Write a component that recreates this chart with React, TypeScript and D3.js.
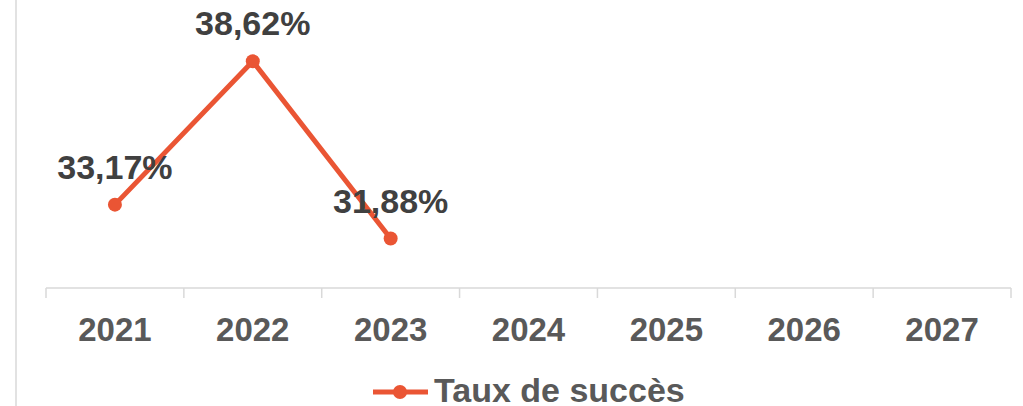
import React from 'react';
import * as d3 from 'd3';

const years = ['2021', '2022', '2023', '2024', '2025', '2026', '2027'];
const successRate: (number | null)[] = [33.17, 38.62, 31.88, null, null, null, null];
const seriesName = 'Taux de succès';

const W = 1023;
const H = 406;
const ORANGE = '#EA5534';
const FONT = 'Arial, "Liberation Sans", Helvetica, sans-serif';

const fmt = (v: number) => v.toFixed(2).replace('.', ',') + '%';

const App = () => {
  const x = d3.scaleBand<string>().domain(years).range([46, 1011]);
  const y = d3.scaleLinear().domain([30, 40]).range([288, 25]);

  const pts = years
    .map((yr, i) => ({ yr, v: successRate[i] }))
    .filter(d => d.v !== null) as { yr: string; v: number }[];

  const cx = (yr: string) => (x(yr) as number) + x.bandwidth() / 2;

  const line = d3.line<{ yr: string; v: number }>()
    .x(d => cx(d.yr))
    .y(d => y(d.v));

  const ticks = [...years.map(yr => x(yr) as number), x.range()[1]];

  return (
    <svg width={W} height={H} style={{ position: 'absolute', left: 0, top: 0 }} fontFamily={FONT}>
      <rect width={W} height={H} fill="#fff" />
      <line x1={16} x2={16} y1={0} y2={H} stroke="#d9d9d9" strokeWidth={1.5} />

      {/* x axis */}
      <line x1={x.range()[0]} x2={x.range()[1]} y1={288} y2={288} stroke="#d9d9d9" strokeWidth={1.5} />
      {ticks.map((t, i) => (
        <line key={i} x1={t} x2={t} y1={288} y2={298} stroke="#d9d9d9" strokeWidth={1.5} />
      ))}
      {years.map(yr => (
        <text key={yr} x={cx(yr)} y={341} textAnchor="middle" fontSize={33} fontWeight="bold" fill="#595959">
          {yr}
        </text>
      ))}

      {/* series */}
      <path d={line(pts) || ''} fill="none" stroke={ORANGE} strokeWidth={5} strokeLinejoin="round" />
      {pts.map(d => (
        <circle key={d.yr} cx={cx(d.yr)} cy={y(d.v)} r={7} fill={ORANGE} />
      ))}
      {pts.map(d => (
        <text key={'l' + d.yr} x={cx(d.yr)} y={y(d.v) - 26} textAnchor="middle" fontSize={34} fontWeight="bold" fill="#404040">
          {fmt(d.v)}
        </text>
      ))}

      {/* legend */}
      <line x1={373} x2={428} y1={392} y2={392} stroke={ORANGE} strokeWidth={5} />
      <circle cx={400} cy={392} r={7} fill={ORANGE} />
      <text x={434} y={402} fontSize={34} fontWeight="bold" fill="#595959">{seriesName}</text>
    </svg>
  );
};

export default App;
